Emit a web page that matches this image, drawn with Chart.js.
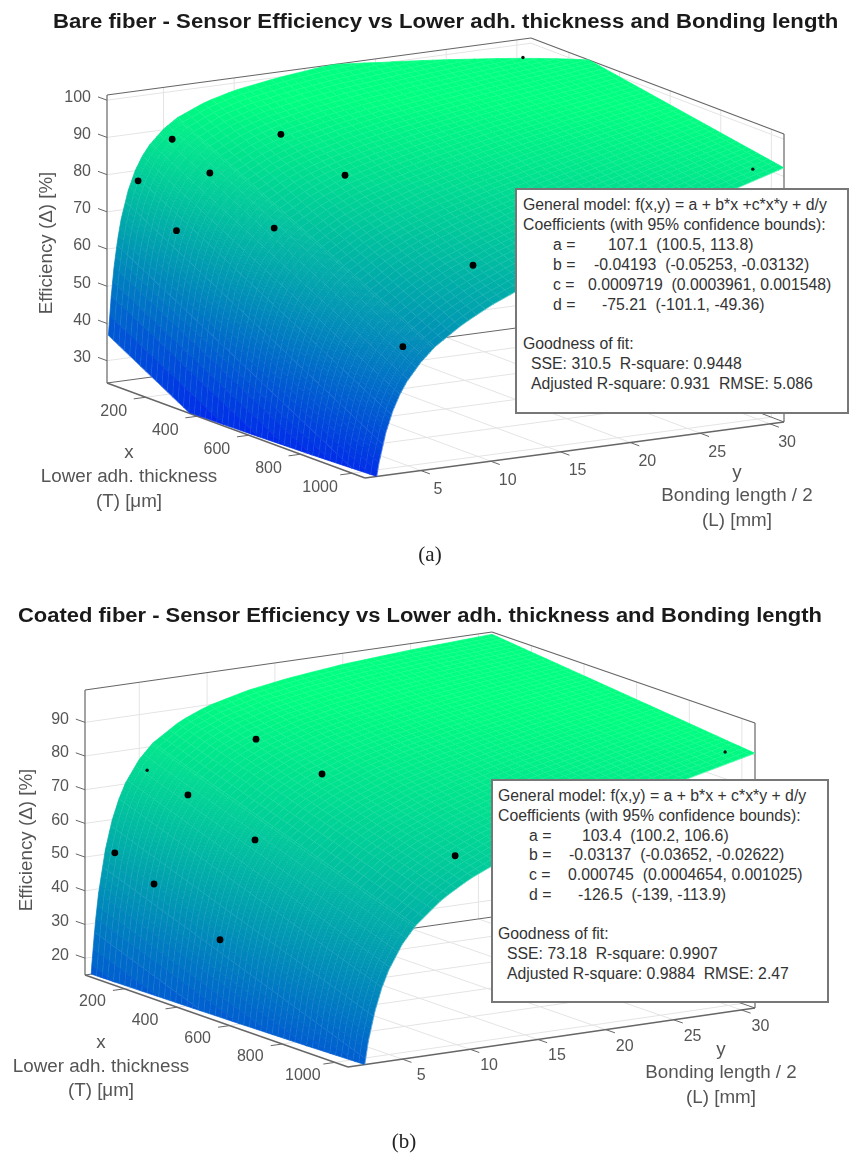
<!DOCTYPE html>
<html lang="en">
<head>
  <meta charset="UTF-8" />
  <title>Sensor efficiency surfaces</title>
  <script src="https://cdn.jsdelivr.net/npm/chart.js"></script>
  <style>
    body { margin: 0; background: #fff; font-family: "Liberation Sans", Arial, sans-serif; }
    #page { position: relative; width: 851px; height: 1155px; overflow: hidden; }
    canvas { position: absolute; left: 0; }
    .title { position: absolute; font-weight: bold; font-size: 19.5px; color: #1a1a1a; white-space: pre; transform-origin: 0 0; }
    .caption { position: absolute; font-family: "Liberation Serif", serif; font-size: 21px; color: #222; transform: translateX(-50%); }
    .box { position: absolute; background: #fff; border: 2px solid #777; box-sizing: border-box; }
    .box div { position: absolute; font-size: 15.8px; line-height: 20px; color: #333; white-space: pre; }
  </style>
</head>
<body>
<div id="page">
  <canvas id="chartA" width="851" height="590" style="top:0"></canvas>
  <canvas id="chartB" width="851" height="565" style="top:590px"></canvas>
  <div class="title" style="left:53px;top:10px;transform:scaleX(1.136)">Bare fiber - Sensor Efficiency vs Lower adh. thickness and Bonding length</div>
  <div class="title" style="left:18px;top:604px;transform:scaleX(1.126)">Coated fiber - Sensor Efficiency vs Lower adh. thickness and Bonding length</div>
  <div class="caption" style="left:430px;top:542px">(a)</div>
  <div class="caption" style="left:404px;top:1129px">(b)</div>
  <div class="box" id="boxA" style="left:515px;top:188px;width:334px;height:226px"></div>
  <div class="box" id="boxB" style="left:491px;top:779px;width:338px;height:224px"></div>
</div>

<script>
  // tick labels
  const xTicks = [200, 400, 600, 800, 1000];
  const yTicks = [5, 10, 15, 20, 25, 30];
  const zTicksA = [30, 40, 50, 60, 70, 80, 90, 100];
  const zTicksB = [20, 30, 40, 50, 60, 70, 80, 90];

  // surface: efficiency along three thickness lines, at these lengths
  const surfX = [50, 550, 1050];
  const surfY = [1.1, 1.3, 1.5, 1.75, 2, 2.5, 3, 3.5, 4, 5, 6, 8, 10, 13, 16, 20, 25, 31];

  const bareAt50 = [36.7, 47.2, 54.9, 62.1, 67.5, 75.0, 80.1, 83.7, 86.4, 90.2, 92.8, 96.0, 98.0, 99.8, 101.1, 102.2, 103.2, 104.1];
  const bareAt550 = [16.3, 26.9, 34.7, 42.0, 47.5, 55.3, 60.6, 64.4, 67.4, 71.7, 74.7, 78.9, 81.9, 85.2, 87.9, 91.0, 94.4, 98.2];
  const bareAt1050 = [-4.2, 6.6, 14.5, 21.9, 27.5, 35.5, 41.1, 45.2, 48.4, 53.1, 56.7, 61.8, 65.8, 70.6, 74.7, 79.7, 85.6, 92.3];

  const coatedAt50 = [-13.1, 4.6, 17.6, 29.6, 38.7, 51.3, 59.8, 65.8, 70.4, 76.7, 81.0, 86.3, 89.6, 92.6, 94.5, 96.3, 97.7, 98.9];
  const coatedAt550 = [-28.4, -10.6, 2.4, 14.6, 23.7, 36.6, 45.2, 51.4, 56.2, 62.9, 67.5, 73.6, 77.6, 81.8, 84.8, 88.0, 91.3, 94.8];
  const coatedAt1050 = [-43.7, -25.8, -12.7, -0.5, 8.8, 21.8, 30.6, 37.1, 42.0, 49.1, 54.1, 60.9, 65.6, 70.9, 75.1, 79.8, 85.0, 90.6];

  // measured points
  const bareT = [100, 50, 210, 230, 232, 480, 482, 980, 981];
  const bareL = [4.7, 3.2, 3, 5, 10, 5, 10, 5, 10];
  const bareE = [88.9, 77.2, 68, 83, 90.9, 74.6, 86.3, 55.5, 74.9];
  // these two barely show past the surface
  const bareHiddenT = [74, 982];
  const bareHiddenL = [30, 30];
  const bareHiddenE = [97.3, 90.7];

  const coatedT = [236, 487, 235, 490, 86, 235, 486, 993];
  const coatedL = [10, 10, 5, 5, 2.5, 2.5, 2.5, 10];
  const coatedE = [84.9, 81.4, 71.2, 64.8, 51.4, 46.2, 36.5, 70.9];
  const coatedHiddenT = [80, 988];
  const coatedHiddenL = [5, 30];
  const coatedHiddenE = [74.3, 89.9];

  const GREY = '#555';

  // draw one panel: view = where the box sits on the canvas
  function makePanel(canvasId, view, surf, dots, hidden, zTicks) {
    const project = (x, y, z) => {
      const u = (x - view.xLim[0]) / (view.xLim[1] - view.xLim[0]);
      const v = (y - view.yLim[0]) / (view.yLim[1] - view.yLim[0]);
      const h = (z - view.zLim[0]) / (view.zLim[1] - view.zLim[0]) * view.height;
      const c = view.corners;
      return {
        x: (1 - u) * (1 - v) * c.left[0] + u * (1 - v) * c.front[0] + (1 - u) * v * c.back[0] + u * v * c.right[0],
        y: (1 - u) * (1 - v) * c.left[1] + u * (1 - v) * c.front[1] + (1 - u) * v * c.back[1] + u * v * c.right[1] - h
      };
    };

    // reading the table between its nodes, only to shade the patch
    const surfaceZ = (x, y) => {
      let j = 0;
      while (j < surfY.length - 2 && y > surfY[j + 1]) j++;
      const t = (y - surfY[j]) / (surfY[j + 1] - surfY[j]);
      const i = x > surfX[1] ? 1 : 0;
      const s = (x - surfX[i]) / (surfX[i + 1] - surfX[i]);
      const a = surf[i][j] + (surf[i][j + 1] - surf[i][j]) * t;
      const b = surf[i + 1][j] + (surf[i + 1][j + 1] - surf[i + 1][j]) * t;
      return a + (b - a) * s;
    };

    const colorOf = z => {
      const t = Math.min(1, Math.max(0, (z - view.colorLim[0]) / (view.colorLim[1] - view.colorLim[0])));
      return `rgb(0,${Math.round(255 * t)},${Math.round(255 * (1 - t / 2))})`;
    };

    // keep the part of a polygon inside the z limits
    const clipPoly = (pts, zb, keepAbove) => {
      const out = [];
      pts.forEach((p, k) => {
        const q = pts[(k + 1) % pts.length];
        const pIn = keepAbove ? p[2] >= zb : p[2] <= zb;
        const qIn = keepAbove ? q[2] >= zb : q[2] <= zb;
        if (pIn) out.push(p);
        if (pIn !== qIn) {
          const t = (zb - p[2]) / (q[2] - p[2]);
          out.push([p[0] + (q[0] - p[0]) * t, p[1] + (q[1] - p[1]) * t, zb]);
        }
      });
      return out;
    };

    const clipSeg = (a, b) => {
      const lo = view.zLim[0], hi = view.zLim[1];
      let t0 = 0, t1 = 1;
      const dz = b[2] - a[2];
      if (dz === 0) return (a[2] < lo || a[2] > hi) ? null : [a, b];
      const ta = (lo - a[2]) / dz, tb = (hi - a[2]) / dz;
      t0 = Math.max(t0, Math.min(ta, tb));
      t1 = Math.min(t1, Math.max(ta, tb));
      if (t0 >= t1) return null;
      const at = t => [a[0] + (b[0] - a[0]) * t, a[1] + (b[1] - a[1]) * t, a[2] + dz * t];
      return [at(t0), at(t1)];
    };

    const boxPlugin = {
      id: 'box3d',
      beforeDatasetsDraw(chart) {
        const ctx = chart.ctx;
        const sx = chart.scales.x, sy = chart.scales.y;
        const toPx = (x, y, z) => {
          const p = project(x, y, z);
          return [sx.getPixelForValue(p.x), sy.getPixelForValue(p.y)];
        };
        const line = (a, b, color, width) => {
          ctx.beginPath();
          ctx.moveTo(...toPx(...a));
          ctx.lineTo(...toPx(...b));
          ctx.strokeStyle = color;
          ctx.lineWidth = width;
          ctx.stroke();
        };
        const [x0, x1] = view.xLim, [y0, y1] = view.yLim, [z0, z1] = view.zLim;
        const gridCol = '#e4e4e4';

        // grid on floor and back walls
        xTicks.forEach(x => {
          line([x, y0, z0], [x, y1, z0], gridCol, 1);
          line([x, y1, z0], [x, y1, z1], gridCol, 1);
        });
        yTicks.forEach(y => {
          line([x0, y, z0], [x1, y, z0], gridCol, 1);
          line([x0, y, z0], [x0, y, z1], gridCol, 1);
        });
        zTicks.forEach(z => {
          line([x0, y0, z], [x0, y1, z], gridCol, 1);
          line([x0, y1, z], [x1, y1, z], gridCol, 1);
        });

        // box edges
        const edge = '#666';
        line([x0, y0, z0], [x0, y0, z1], edge, 1.2);
        line([x0, y0, z1], [x0, y1, z1], edge, 1.2);
        line([x0, y1, z1], [x1, y1, z1], edge, 1.2);
        line([x1, y1, z0], [x1, y1, z1], edge, 1.2);
        line([x0, y0, z0], [x0, y1, z0], edge, 1);
        line([x0, y1, z0], [x1, y1, z0], edge, 1);
        line([x0, y0, z0], [x1, y0, z0], edge, 1.4);
        line([x1, y0, z0], [x1, y1, z0], edge, 1.4);

        // ticks
        xTicks.forEach(x => line([x, y0, z0], [x, y0 - 0.85, z0], edge, 1));
        yTicks.forEach(y => line([x1, y, z0], [x1 + 35, y, z0], edge, 1));
        zTicks.forEach(z => line([x0, y0, z], [x0 - 35, y0, z], edge, 1));

        // surface, back to front
        const stepsX = 48;
        const ys = [];
        for (let k = 0; k < 49; k++) ys.push({ y: surfY[0] + k * 0.1, mesh: k % 6 === 0 });
        for (let y = 6; y < 30.9; y += 0.6) ys.push({ y, mesh: true });
        ys.push({ y: 31, mesh: true });

        const fillPoly = (pts, color) => {
          ctx.beginPath();
          pts.forEach((p, k) => {
            const q = toPx(...p);
            if (k === 0) ctx.moveTo(q[0], q[1]); else ctx.lineTo(q[0], q[1]);
          });
          ctx.closePath();
          ctx.fillStyle = color;
          ctx.strokeStyle = color;
          ctx.lineWidth = 0.7;
          ctx.fill();
          ctx.stroke();
        };
        const meshCol = 'rgba(255,255,255,0.38)';
        const mesh = (a, b) => {
          const s = clipSeg(a, b);
          if (s) line(s[0], s[1], meshCol, 0.8);
        };

        for (let i = 0; i < stepsX; i++) {
          const xa = x0 + (x1 - x0) * i / stepsX;
          const xb = x0 + (x1 - x0) * (i + 1) / stepsX;
          for (let j = ys.length - 2; j >= 0; j--) {
            const ya = ys[j].y, yb = ys[j + 1].y;
            const quad = [
              [xa, ya, surfaceZ(xa, ya)], [xb, ya, surfaceZ(xb, ya)],
              [xb, yb, surfaceZ(xb, yb)], [xa, yb, surfaceZ(xa, yb)]
            ];
            let poly = clipPoly(quad, z0, true);
            if (poly.length) poly = clipPoly(poly, z1, false);
            if (poly.length < 3) continue;
            const zMid = (quad[0][2] + quad[1][2] + quad[2][2] + quad[3][2]) / 4;
            fillPoly(poly, colorOf(zMid));
            mesh(quad[2], quad[1]);
            if (ys[j].mesh) mesh(quad[0], quad[1]);
          }
        }
      },
      afterDraw(chart) {
        const ctx = chart.ctx;
        const sx = chart.scales.x, sy = chart.scales.y;
        const [x0, x1] = view.xLim, [y0, y1] = view.yLim, [z0] = view.zLim;
        const label = (text, x, y, align) => {
          ctx.textAlign = align || 'center';
          ctx.textBaseline = 'middle';
          ctx.fillText(text, x, y);
        };
        const anchor = (x, y, z) => {
          const p = project(x, y, z);
          return [sx.getPixelForValue(p.x), sy.getPixelForValue(p.y)];
        };
        ctx.save();
        ctx.fillStyle = GREY;
        ctx.font = '16px "Liberation Sans", Arial, sans-serif';
        xTicks.forEach(x => {
          const p = anchor(x, y0, z0);
          label(String(x), p[0] + view.xLabelOff[0], p[1] + view.xLabelOff[1]);
        });
        yTicks.forEach(y => {
          const p = anchor(x1, y, z0);
          label(String(y), p[0] + view.yLabelOff[0], p[1] + view.yLabelOff[1]);
        });
        zTicks.forEach(z => {
          const p = anchor(x0, y0, z);
          label(String(z), p[0] - 16, p[1] - 3, 'right');
        });

        ctx.font = '18.8px "Liberation Sans", Arial, sans-serif';
        view.xTitle.forEach(t => label(t[0], view.xTitlePos, t[1]));
        view.yTitle.forEach(t => label(t[0], view.yTitlePos, t[1]));
        ctx.translate(view.zTitle[0], view.zTitle[1]);
        ctx.rotate(-Math.PI / 2);
        label('Efficiency (Δ) [%]', 0, 0);
        ctx.restore();
      }
    };

    const toPoints = (ts, ls, es) => ts.map((t, k) => project(t, ls[k], es[k]));
    const canvas = document.getElementById(canvasId);

    return new Chart(canvas.getContext('2d'), {
      type: 'scatter',
      data: {
        datasets: [
          { label: 'Measured', data: toPoints(...dots), pointRadius: 3.4, pointBackgroundColor: '#000', pointBorderWidth: 0 },
          { label: 'Measured, mostly behind surface', data: toPoints(...hidden), pointRadius: 1.7, pointBackgroundColor: '#111', pointBorderWidth: 0 }
        ]
      },
      options: {
        responsive: false,
        animation: false,
        layout: { padding: 0, autoPadding: false },
        plugins: { legend: { display: false }, tooltip: { enabled: false }, title: { display: false } },
        scales: {
          x: { type: 'linear', min: 0, max: canvas.width, display: false },
          y: { type: 'linear', min: 0, max: canvas.height, reverse: true, display: false }
        }
      },
      plugins: [boxPlugin]
    });
  }

  makePanel('chartA', {
    xLim: [50, 1050], yLim: [1, 31], zLim: [24, 101.4], height: 288, colorLim: [8, 97],
    corners: { left: [107, 383], front: [365, 478], right: [784, 422], back: [531, 326] },
    xLabelOff: [-32, 14], yLabelOff: [17, 19],
    xTitlePos: 129, xTitle: [['x', 453], ['Lower adh. thickness', 477], ['(T) [μm]', 502]],
    yTitlePos: 737, yTitle: [['y', 473], ['Bonding length / 2', 496], ['(L) [mm]', 521]],
    zTitle: [47, 243]
  }, [bareAt50, bareAt550, bareAt1050], [bareT, bareL, bareE], [bareHiddenT, bareHiddenL, bareHiddenE], zTicksA);

  makePanel('chartB', {
    xLim: [50, 1050], yLim: [1, 31], zLim: [15, 99.6], height: 285, colorLim: [-30, 93],
    corners: { left: [85, 385], front: [348, 477], right: [755, 418], back: [492, 327] },
    xLabelOff: [-32, 13], yLabelOff: [19, 16.5],
    xTitlePos: 101, xTitle: [['x', 453], ['Lower adh. thickness', 477], ['(T) [μm]', 501]],
    yTitlePos: 721, yTitle: [['y', 460], ['Bonding length / 2', 483], ['(L) [mm]', 508]],
    zTitle: [27, 250]
  }, [coatedAt50, coatedAt550, coatedAt1050], [coatedT, coatedL, coatedE], [coatedHiddenT, coatedHiddenL, coatedHiddenE], zTicksB);

  // fit result boxes
  function fillBox(id, lines) {
    const box = document.getElementById(id);
    lines.forEach(l => {
      const d = document.createElement('div');
      d.style.left = l[0] + 'px';
      d.style.top = l[1] + 'px';
      d.textContent = l[2];
      box.appendChild(d);
    });
  }

  fillBox('boxA', [
    [6, 5, 'General model: f(x,y) = a + b*x +c*x*y + d/y'],
    [6, 25, 'Coefficients (with 95% confidence bounds):'],
    [36, 45, 'a ='], [91, 45, '107.1  (100.5, 113.8)'],
    [36, 65, 'b ='], [77, 65, '-0.04193  (-0.05253, -0.03132)'],
    [36, 85, 'c ='], [71, 85, '0.0009719  (0.0003961, 0.001548)'],
    [36, 105, 'd ='], [85, 105, '-75.21  (-101.1, -49.36)'],
    [6, 144, 'Goodness of fit:'],
    [14, 164, 'SSE: 310.5  R-square: 0.9448'],
    [14, 184, 'Adjusted R-square: 0.931  RMSE: 5.086']
  ]);

  fillBox('boxB', [
    [5, 5, 'General model: f(x,y) = a + b*x + c*x*y + d/y'],
    [5, 25, 'Coefficients (with 95% confidence bounds):'],
    [36, 45, 'a ='], [89, 45, '103.4  (100.2, 106.6)'],
    [36, 64, 'b ='], [76, 64, '-0.03137  (-0.03652, -0.02622)'],
    [36, 84, 'c ='], [75, 84, '0.000745  (0.0004654, 0.001025)'],
    [36, 104, 'd ='], [85, 104, '-126.5  (-139, -113.9)'],
    [5, 143, 'Goodness of fit:'],
    [14, 163, 'SSE: 73.18  R-square: 0.9907'],
    [14, 183, 'Adjusted R-square: 0.9884  RMSE: 2.47']
  ]);
</script>
</body>
</html>
